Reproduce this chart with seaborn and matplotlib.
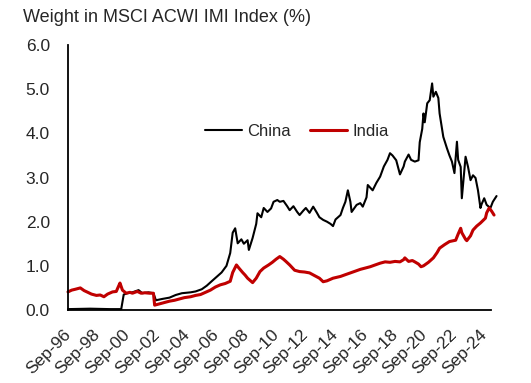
import pandas as pd
import matplotlib
matplotlib.use("Agg")
import matplotlib.pyplot as plt
import matplotlib.dates as mdates
from matplotlib.ticker import FormatStrFormatter
import seaborn as sns

# values (% weight in MSCI ACWI IMI)
china_dates = [
    "1996-09", "1998-03", "1999-07", "2000-04", "2000-06", "2000-09", "2001-01", "2001-06",
    "2001-09", "2002-02", "2002-06", "2002-08", "2003-01", "2003-07", "2003-12", "2004-05",
    "2004-12", "2005-04", "2005-09", "2006-01", "2006-05", "2006-09", "2007-01", "2007-05",
    "2007-08", "2007-10", "2007-12", "2008-02", "2008-05", "2008-07", "2008-10", "2008-11",
    "2009-02", "2009-05", "2009-06", "2009-09", "2009-11", "2010-02", "2010-05", "2010-07",
    "2010-10", "2010-12", "2011-03", "2011-06", "2011-08", "2011-11", "2012-02", "2012-04",
    "2012-07", "2012-09", "2012-12", "2013-03", "2013-06", "2013-08", "2013-11", "2014-02",
    "2014-05", "2014-07", "2014-09", "2015-01", "2015-03", "2015-05", "2015-07", "2015-09",
    "2015-10", "2016-02", "2016-05", "2016-07", "2016-10", "2016-11", "2017-03", "2017-06",
    "2017-09", "2017-12", "2018-03", "2018-05", "2018-07", "2018-10", "2019-01", "2019-04",
    "2019-05", "2019-08", "2019-10", "2020-01", "2020-04", "2020-05", "2020-07", "2020-08",
    "2020-09", "2020-11", "2021-01", "2021-03", "2021-04", "2021-06", "2021-08", "2021-09",
    "2021-12", "2022-03", "2022-05", "2022-07", "2022-09", "2022-11", "2022-12", "2023-02",
    "2023-03", "2023-06", "2023-08", "2023-10", "2023-12", "2024-02", "2024-04", "2024-06",
    "2024-07", "2024-09", "2024-11", "2025-02", "2025-04", "2025-07",
]
china_values = [
    0.02, 0.03, 0.02, 0.02, 0.35, 0.38, 0.40, 0.45,
    0.38, 0.40, 0.38, 0.22, 0.25, 0.28, 0.34, 0.38,
    0.40, 0.42, 0.47, 0.55, 0.65, 0.75, 0.85, 1.00,
    1.29, 1.75, 1.85, 1.51, 1.60, 1.50, 1.58, 1.36,
    1.63, 1.95, 2.19, 2.10, 2.31, 2.22, 2.30, 2.45,
    2.49, 2.45, 2.47, 2.35, 2.26, 2.35, 2.22, 2.15,
    2.25, 2.31, 2.20, 2.34, 2.20, 2.10, 2.04, 2.00,
    1.95, 1.90, 2.05, 2.15, 2.31, 2.45, 2.71, 2.45,
    2.22, 2.38, 2.42, 2.34, 2.55, 2.83, 2.71, 2.88,
    3.02, 3.25, 3.40, 3.55, 3.50, 3.39, 3.07, 3.25,
    3.36, 3.52, 3.40, 3.36, 3.39, 3.80, 4.10, 4.45,
    4.25, 4.68, 4.75, 5.13, 4.83, 4.94, 4.80, 4.45,
    3.92, 3.66, 3.50, 3.36, 3.10, 3.81, 3.40, 3.24,
    2.53, 3.47, 3.24, 2.94, 3.05, 2.99, 2.71, 2.31,
    2.40, 2.53, 2.38, 2.31, 2.45, 2.58,
]

india_dates = [
    "1996-09", "1996-12", "1997-03", "1997-07", "1997-10", "1998-01", "1998-04", "1998-08",
    "1998-11", "1999-02", "1999-05", "1999-09", "1999-12", "2000-02", "2000-03", "2000-05",
    "2000-08", "2000-11", "2001-01", "2001-05", "2001-08", "2001-11", "2002-03", "2002-06",
    "2002-07", "2002-11", "2003-03", "2003-07", "2003-11", "2004-03", "2004-07", "2004-12",
    "2005-04", "2005-08", "2005-12", "2006-04", "2006-08", "2006-12", "2007-04", "2007-08",
    "2007-10", "2008-01", "2008-03", "2008-06", "2008-08", "2008-10", "2009-02", "2009-05",
    "2009-08", "2009-11", "2010-03", "2010-06", "2010-09", "2010-12", "2011-03", "2011-05",
    "2011-08", "2011-12", "2012-04", "2012-08", "2012-12", "2013-04", "2013-08", "2013-11",
    "2014-02", "2014-07", "2015-01", "2015-05", "2015-09", "2016-01", "2016-05", "2016-09",
    "2017-01", "2017-05", "2017-09", "2018-01", "2018-05", "2018-09", "2019-01", "2019-04",
    "2019-05", "2019-08", "2019-11", "2020-01", "2020-04", "2020-06", "2020-08", "2020-12",
    "2021-04", "2021-07", "2021-09", "2022-01", "2022-05", "2022-10", "2022-12", "2023-02",
    "2023-03", "2023-06", "2023-07", "2023-10", "2023-12", "2024-03", "2024-06", "2024-10",
    "2024-11", "2025-01", "2025-03", "2025-05",
]
india_values = [
    0.41, 0.45, 0.47, 0.50, 0.44, 0.40, 0.36, 0.33,
    0.34, 0.30, 0.36, 0.41, 0.42, 0.55, 0.61, 0.45,
    0.38, 0.40, 0.38, 0.42, 0.38, 0.39, 0.38, 0.38,
    0.11, 0.14, 0.17, 0.20, 0.22, 0.25, 0.28, 0.30,
    0.33, 0.35, 0.40, 0.45, 0.52, 0.57, 0.60, 0.65,
    0.85, 1.02, 0.95, 0.85, 0.79, 0.72, 0.62, 0.72,
    0.87, 0.95, 1.02, 1.08, 1.15, 1.21, 1.15, 1.10,
    1.02, 0.90, 0.87, 0.86, 0.84, 0.78, 0.72, 0.64,
    0.66, 0.72, 0.76, 0.80, 0.84, 0.88, 0.92, 0.95,
    0.98, 1.02, 1.06, 1.09, 1.08, 1.10, 1.09, 1.14,
    1.18, 1.10, 1.12, 1.09, 1.04, 0.98, 1.00, 1.08,
    1.18, 1.30, 1.40, 1.48, 1.55, 1.58, 1.72, 1.85,
    1.75, 1.60, 1.57, 1.68, 1.81, 1.90, 1.97, 2.08,
    2.20, 2.31, 2.24, 2.15,
]

tick_years = list(range(1996, 2025, 2))

china = pd.DataFrame({"date": pd.to_datetime(china_dates), "weight": china_values})
india = pd.DataFrame({"date": pd.to_datetime(india_dates), "weight": india_values})

sns.set_style("white")
plt.rcParams["font.family"] = ["Liberation Sans", "DejaVu Sans"]
text_color = "#262626"

fig = plt.figure(figsize=(5.31, 3.83), dpi=100)
ax = fig.add_axes([68 / 531, 1 - 310 / 383, (491 - 68) / 531, (310 - 45) / 383])

sns.lineplot(data=china, x="date", y="weight", color="black", linewidth=1.5,
             label="China", ax=ax, clip_on=False)
sns.lineplot(data=india, x="date", y="weight", color="#C00000", linewidth=2.2,
             label="India", ax=ax, clip_on=False)

ax.set_ylim(0, 6)
ax.set_yticks(range(0, 7))
ax.yaxis.set_major_formatter(FormatStrFormatter("%.1f"))
ax.set_xlim(pd.Timestamp("1996-09-01"), pd.Timestamp("2025-02-15"))
ax.set_xticks([pd.Timestamp(f"{y}-09-01") for y in tick_years])
ax.xaxis.set_major_formatter(mdates.DateFormatter("%b-%y"))
ax.set_xlabel("")
ax.set_ylabel("")

ax.tick_params(axis="y", length=0, pad=13, labelsize=12.5, labelcolor=text_color)
ax.tick_params(axis="x", length=0, pad=16, labelsize=12.5, labelcolor=text_color)
for lab in ax.get_xticklabels():
    lab.set_rotation(45)
    lab.set_ha("right")
    lab.set_va("center")
    lab.set_rotation_mode("anchor")

for side in ["top", "right"]:
    ax.spines[side].set_visible(False)
for side in ["left", "bottom"]:
    ax.spines[side].set_color("black")
    ax.spines[side].set_linewidth(1.3)

ax.legend(ncol=2, frameon=False, loc="center", bbox_to_anchor=(0.541, 0.675),
          fontsize=12, handlelength=2.2, handletextpad=0.3, columnspacing=1.2,
          labelcolor=text_color)

fig.text(23 / 531, 1 - 17 / 383, "Weight in MSCI ACWI IMI Index (%)", fontsize=13,
         color=text_color, va="center", ha="left")

fig.savefig("out.png", dpi=100)
